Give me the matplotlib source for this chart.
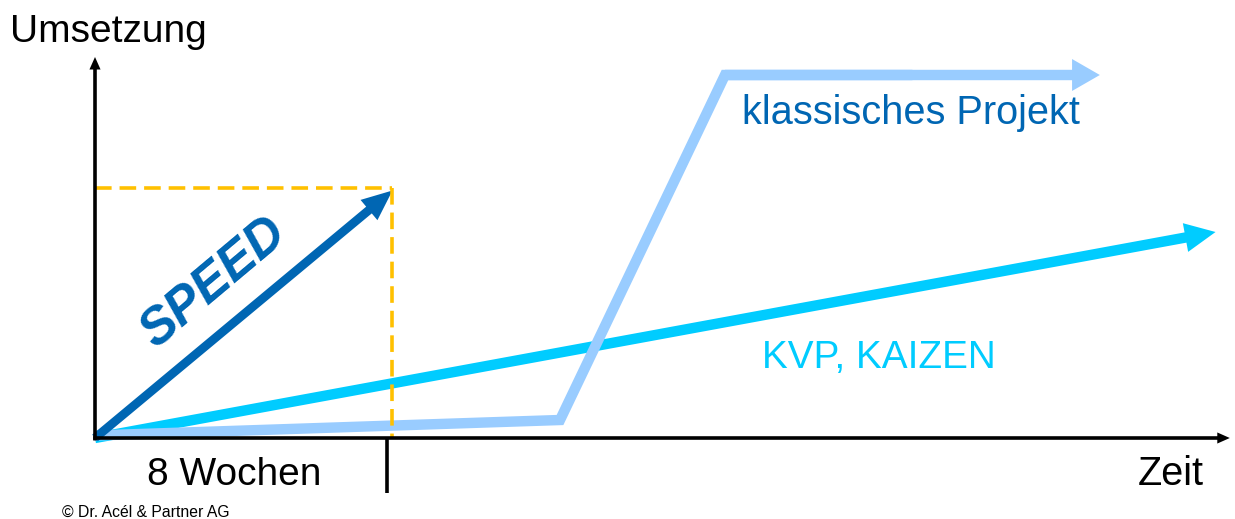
import matplotlib
matplotlib.use("Agg")
import matplotlib.pyplot as plt
from matplotlib.patches import FancyArrowPatch, ArrowStyle

plt.rcParams['font.family'] = ['Liberation Sans', 'DejaVu Sans']

# ---- data (x: weeks, y: Umsetzung in %) ----
speed_x = [0, 8.15]
speed_y = [0, 99]
kvp_x = [0, 30.7]
kvp_y = [0, 82.4]
klass_x = [0, 12.74, 17.26, 27.53]
klass_y = [1, 7.2, 145.2, 145.2]
target_week = 8
target_x = 8.13
target_y = 100
xaxis_end = 31.09
yaxis_end = 152.4

label_y = "Umsetzung"
label_x = "Zeit"
label_weeks = "8 Wochen"
label_klass = "klassisches Projekt"
label_kvp = "KVP, KAIZEN"
label_speed = "SPEED"
copyright_txt = "© Dr. Acél & Partner AG"

DARK = "#0066B3"
CYAN = "#00CCFF"
LIGHT = "#99CCFF"
ORANGE = "#FFC000"

PX_X = 36.5   # px per week
PX_Y = 2.5    # px per %

fig = plt.figure(figsize=(12.35, 5.19), dpi=100)
ax = fig.add_axes([0, 0, 1, 1])
ax.set_xlim(-95 / PX_X, 1140 / PX_X)
ax.set_ylim(-81 / PX_Y, 438 / PX_Y)
ax.axis("off")


def arrow(p0, p1, color, tail, hl, hw, z):
    st = ArrowStyle("simple", head_length=hl, head_width=hw, tail_width=tail)
    a = FancyArrowPatch(p0, p1, arrowstyle=st, mutation_scale=1, color=color,
                        lw=0, shrinkA=0, shrinkB=0, zorder=z)
    ax.add_patch(a)


# axes
arrow((0, -1.0), (0, yaxis_end), "black", 2.6, 9, 8, 5)
arrow((-0.05, 0), (xaxis_end, 0), "black", 2.6, 9, 8, 5)
ax.plot([target_week, target_week], [0, -22], color="black", lw=2.6,
        solid_capstyle="butt", zorder=5)

# KVP
arrow((kvp_x[0], kvp_y[0]), (kvp_x[1], kvp_y[1]), CYAN, 7.5, 22, 21, 2)

# klassisches Projekt (polyline, arrow on last segment)
mid_x = (klass_x[-2] + klass_x[-1]) / 2
ax.plot(klass_x[:-1] + [mid_x], klass_y[:-1] + [klass_y[-1]], color=LIGHT,
        lw=7.5, solid_joinstyle="miter", solid_capstyle="butt", zorder=3)
arrow((klass_x[-2], klass_y[-2]), (klass_x[-1], klass_y[-1]), LIGHT, 7.5, 20, 23, 3)

# SPEED
arrow((speed_x[0], speed_y[0]), (speed_x[1], speed_y[1]), DARK, 6.3, 22, 19, 4)

# dashed target lines
dash = (4.6, 2.2)
ax.plot([0, target_x], [target_y, target_y], color=ORANGE, lw=2.6,
        dashes=dash, zorder=4.5)
ax.plot([target_x, target_x], [target_y, 0], color=ORANGE, lw=2.6,
        dashes=dash, zorder=4.5)

# texts
ax.text(-85 / PX_X, 158.4, label_y, fontsize=28, va="baseline", ha="left")
ax.text(1043 / PX_X, -18.8, label_x, fontsize=28.5, va="baseline", ha="left")
ax.text(52 / PX_X, -18.8, label_weeks, fontsize=28, va="baseline", ha="left")
ax.text(647 / PX_X, 125.6, label_klass, fontsize=28.6, color=DARK,
        va="baseline", ha="left")
ax.text(667 / PX_X, 28, label_kvp, fontsize=27.9, color=CYAN,
        va="baseline", ha="left")
ax.text(3.25, 62, label_speed, fontsize=37, color=DARK, fontweight="bold",
        fontstyle="italic", rotation=40, rotation_mode="anchor",
        ha="center", va="center")
ax.text(-33 / PX_X, -31.6, copyright_txt, fontsize=11.3, va="baseline", ha="left")

fig.savefig("out.png", dpi=100)
